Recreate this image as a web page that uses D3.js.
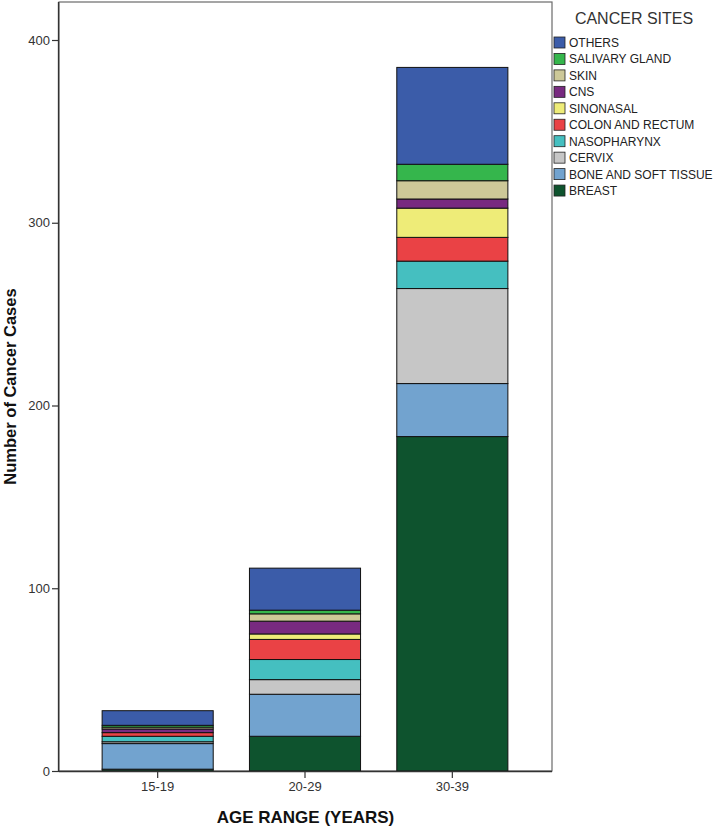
<!DOCTYPE html>
<html>
<head>
<meta charset="utf-8">
<script src="https://cdn.jsdelivr.net/npm/d3@7"></script>
<style>
  body { margin: 0; background: #fff; }
  svg { display: block; font-family: "Liberation Sans", Arial, sans-serif; }
</style>
</head>
<body>
<script>
// categories and series (bottom of stack first)
const ageGroups = ["15-19", "20-29", "30-39"];
const sites = [
  "BREAST",
  "BONE AND SOFT TISSUE",
  "CERVIX",
  "NASOPHARYNX",
  "COLON AND RECTUM",
  "SINONASAL",
  "CNS",
  "SKIN",
  "SALIVARY GLAND",
  "OTHERS",
];
const breast = [1, 19, 183];
const boneSoftTissue = [14, 23, 29];
const cervix = [1, 8, 52];
const nasopharynx = [3, 11, 15];
const colonRectum = [2, 11, 13];
const sinonasal = [0, 3, 16];
const cns = [2, 7, 5];
const skin = [1, 4, 10];
const salivaryGland = [1, 2, 9];
const others = [8, 23, 53];
const yTicks = [0, 100, 200, 300, 400];

const siteColors = [
  "#0e532e",
  "#72a3cf",
  "#c6c6c6",
  "#45bfc0",
  "#ea4245",
  "#eeec78",
  "#782a80",
  "#cdc898",
  "#35b64c",
  "#3b5ca9",
];

const seriesValues = [
  breast,
  boneSoftTissue,
  cervix,
  nasopharynx,
  colonRectum,
  sinonasal,
  cns,
  skin,
  salivaryGland,
  others,
];

const width = 717;
const height = 828;
const plotLeft = 59;
const plotRight = 552;
const plotTop = 2;
const plotBottom = 771;

const table = ageGroups.map((age, i) => {
  const row = { age: age };
  sites.forEach((s, j) => (row[s] = seriesValues[j][i]));
  return row;
});

const svg = d3
  .select("body")
  .append("svg")
  .attr("width", width)
  .attr("height", height);

const yScale = d3
  .scaleLinear()
  .domain([0, 400])
  .range([plotBottom, 40]);

const xScale = d3
  .scaleBand()
  .domain(ageGroups)
  .range([84, 526])
  .paddingInner(0.246)
  .paddingOuter(0.123);

const color = d3.scaleOrdinal().domain(sites).range(siteColors);

// plot frame
svg
  .append("rect")
  .attr("x", plotLeft)
  .attr("y", plotTop)
  .attr("width", plotRight - plotLeft)
  .attr("height", plotBottom - plotTop)
  .attr("fill", "none")
  .attr("stroke", "#6a6a6a")
  .attr("stroke-width", 1.2);

// bars
const stacked = d3.stack().keys(sites)(table);

svg
  .append("g")
  .selectAll("g")
  .data(stacked)
  .join("g")
  .attr("fill", (d) => color(d.key))
  .selectAll("rect")
  .data((d) => d)
  .join("rect")
  .attr("x", (d) => xScale(d.data.age))
  .attr("width", xScale.bandwidth())
  .attr("y", (d) => yScale(d[1]))
  .attr("height", (d) => yScale(d[0]) - yScale(d[1]))
  .attr("stroke", "#111")
  .attr("stroke-width", 1);

// axes
const yAxis = svg
  .append("g")
  .attr("transform", `translate(${plotLeft}, 0)`)
  .call(d3.axisLeft(yScale).tickValues(yTicks).tickSize(7).tickPadding(2));

const xAxis = svg
  .append("g")
  .attr("transform", `translate(0, ${plotBottom})`)
  .call(d3.axisBottom(xScale).tickSize(7).tickSizeOuter(0).tickPadding(4));

xAxis.select(".domain").attr("d", `M${plotLeft},0.5H${plotRight}`);
yAxis.select(".domain").attr("d", `M-0.5,${plotBottom}V${plotTop}`);

[xAxis, yAxis].forEach((ax) => {
  ax.selectAll(".domain").attr("stroke", "#333").attr("stroke-width", 1.3);
  ax.selectAll(".tick line").attr("stroke", "#333").attr("stroke-width", 1.2);
  ax.selectAll(".tick text")
    .attr("fill", "#333")
    .style("font-size", "13px")
    .style("font-family", "Liberation Sans, Arial, sans-serif");
});

// axis titles
svg
  .append("text")
  .text("AGE RANGE (YEARS)")
  .attr("x", (plotLeft + plotRight) / 2)
  .attr("y", 823)
  .attr("text-anchor", "middle")
  .attr("font-size", "17px")
  .attr("font-weight", "bold")
  .attr("fill", "#111");

svg
  .append("text")
  .text("Number of Cancer Cases")
  .attr("transform", `translate(16, ${(plotTop + plotBottom) / 2}) rotate(-90)`)
  .attr("text-anchor", "middle")
  .attr("font-size", "16.5px")
  .attr("font-weight", "bold")
  .attr("fill", "#111");

// legend
const legend = svg.append("g").attr("transform", "translate(554, 0)");

legend
  .append("text")
  .text("CANCER SITES")
  .attr("x", 80)
  .attr("y", 24)
  .attr("text-anchor", "middle")
  .attr("font-size", "16px")
  .attr("fill", "#333");

const legendItems = legend
  .selectAll("g.item")
  .data(sites.slice().reverse())
  .join("g")
  .attr("class", "item")
  .attr("transform", (d, i) => `translate(0, ${37 + i * 16.45})`);

legendItems
  .append("rect")
  .attr("width", 11)
  .attr("height", 11)
  .attr("fill", (d) => color(d))
  .attr("stroke", "#222")
  .attr("stroke-width", 0.8);

legendItems
  .append("text")
  .text((d) => d)
  .attr("x", 15)
  .attr("y", 10)
  .attr("font-size", "12px")
  .attr("fill", "#222");
</script>
</body>
</html>
